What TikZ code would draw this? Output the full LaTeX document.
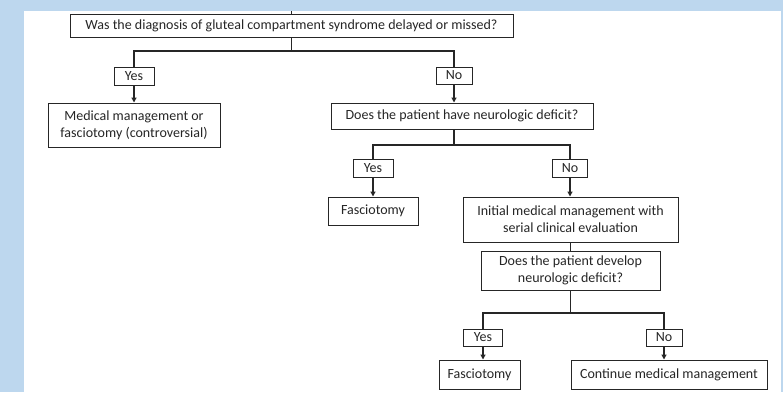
\documentclass[tikz,border=0pt]{standalone}
\usepackage{fontspec}
\setmainfont{Carlito}
\usetikzlibrary{arrows.meta,calc}
\definecolor{bgblue}{HTML}{BDD7EE}
\definecolor{ink}{HTML}{262626}
\begin{document}
\begin{tikzpicture}[x=1pt,y=-1pt,
  box/.style={draw=ink,line width=1pt,text=ink,inner sep=0pt,align=center,font=\fontsize{14}{17}\selectfont},
  conn/.style={draw=ink,line width=1.2pt},
  arr/.style={conn,-{Triangle[length=5pt,width=5pt]}}]
\fill[bgblue] (0,0) rectangle (783,392);
\fill[white] (24,11) rectangle (781,392);
\useasboundingbox (0,0) rectangle (783,392);
\node[box,minimum width=443pt,minimum height=23pt] (q1) at (291.5,25.5) {Was the diagnosis of gluteal compartment syndrome delayed or missed?};
\node[box,minimum width=40pt,minimum height=18pt] (y1) at (134,76) {Yes};
\node[box,minimum width=36pt,minimum height=17pt] (n1) at (454,75.5) {No};
\node[box,minimum width=172pt,minimum height=44pt] (med) at (134,125) {Medical management or\\fasciotomy (controversial)};
\node[box,minimum width=262pt,minimum height=26pt] (q2) at (462,116) {Does the patient have neurologic deficit?};
\node[box,minimum width=40pt,minimum height=18pt] (y2) at (373,168) {Yes};
\node[box,minimum width=35pt,minimum height=18pt] (n2) at (570,168) {No};
\node[box,minimum width=90pt,minimum height=28pt] (f1) at (373,211) {Fasciotomy};
\node[box,minimum width=215pt,minimum height=45pt] (init) at (570.5,219.5) {Initial medical management with\\serial clinical evaluation};
\node[box,minimum width=179pt,minimum height=39pt] (q3) at (570.5,270.5) {Does the patient develop\\neurologic deficit?};
\node[box,minimum width=39pt,minimum height=17pt] (y3) at (483,337.5) {Yes};
\node[box,minimum width=36pt,minimum height=17pt] (n3) at (664,337.5) {No};
\node[box,minimum width=81pt,minimum height=29pt] (f2) at (479.5,374.5) {Fasciotomy};
\node[box,minimum width=196pt,minimum height=29pt] (cont) at (669,374.5) {Continue medical management};
\coordinate (top) at (291.5,11);
\coordinate (j1) at (291.5,51);
\coordinate (j2) at (454,145);
\coordinate (j3) at (570.5,313);
\draw[conn] (top) -- (q1.north);
\draw[conn] (q1.south) -- (j1);
\draw[conn] (y1.north) |- (j1) -| (n1.north);
\draw[arr] (y1.south) -- (med.north);
\draw[arr] (n1.south) -- (n1.south |- q2.north);
\draw[conn] (j2 |- q2.south) -- (j2);
\draw[conn] (y2.north) |- (j2) -| (n2.north);
\draw[arr] (y2.south) -- (f1.north);
\draw[arr] (n2.south) -- (n2.south |- init.north);
\draw[conn] (init.south) -- (q3.north);
\draw[conn] (q3.south) -- (j3);
\draw[conn] (y3.north) |- (j3) -| (n3.north);
\draw[arr] (y3.south) -- (y3.south |- f2.north);
\draw[arr] (n3.south) -- (n3.south |- cont.north);
\end{tikzpicture}
\end{document}
